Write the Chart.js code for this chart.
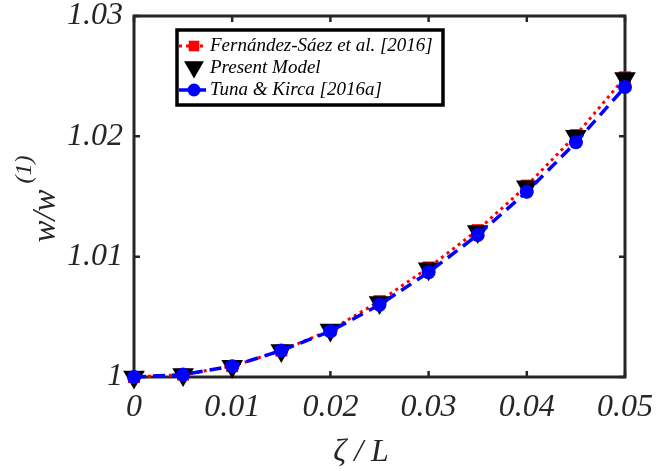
<!DOCTYPE html>
<html>
<head>
<meta charset="utf-8">
<script src="https://cdn.jsdelivr.net/npm/chart.js@4/dist/chart.umd.min.js"></script>
<style>
  html, body { margin: 0; padding: 0; background: #ffffff; }
  #wrap { width: 656px; height: 471px; position: relative; }
</style>
</head>
<body>
<div id="wrap"><canvas id="c" width="656" height="471"></canvas></div>
<script>
// ---- data ----
const xValues = [0, 0.005, 0.01, 0.015, 0.02, 0.025, 0.03, 0.035, 0.04, 0.045, 0.05];
const fernandezSaez = [1, 1.0002, 1.0009, 1.0022, 1.0039, 1.0063, 1.0091, 1.0122, 1.0159, 1.0201, 1.0249];
const presentModel  = [1, 1.0002, 1.0009, 1.0022, 1.0039, 1.0062, 1.0090, 1.0121, 1.0158, 1.0200, 1.0248];
const tunaKirca     = [1, 1.0002, 1.0009, 1.0022, 1.0038, 1.0060, 1.0087, 1.0118, 1.0154, 1.0195, 1.0241];
const xTickLabels = ['0', '0.01', '0.02', '0.03', '0.04', '0.05'];
const yTickLabels = ['1', '1.01', '1.02', '1.03'];
const seriesNames = ['Fernández-Sáez et al. [2016]', 'Present Model', 'Tuna & Kirca [2016a]'];
const xTitle = 'ζ / L';
const yTitleMain = 'w/w';
const yTitleSup = '(1)';

const AXIS = '#262626';
const FONT = '"Liberation Serif", "DejaVu Serif", serif';
const pts = (ys) => xValues.map((x, i) => ({ x: x, y: ys[i] }));

const series = [
  { label: seriesNames[0], data: pts(fernandezSaez), showLine: true,
    borderColor: '#ff0000', borderWidth: 3, borderDash: [3, 4], pointStyle: 'rect',
    pointRadius: 8.5, pointBackgroundColor: '#ff0000', pointBorderColor: '#ff0000', pointBorderWidth: 0, order: 3 },
  { label: seriesNames[1], data: pts(presentModel), showLine: false,
    borderColor: '#000000', pointStyle: 'triangle', pointRotation: 180,
    pointRadius: 12.5, pointBackgroundColor: '#000000', pointBorderColor: '#000000', pointBorderWidth: 0, order: 2 },
  { label: seriesNames[2], data: pts(tunaKirca), showLine: true,
    borderColor: '#0000ff', borderWidth: 3.5, borderDash: [12, 7], pointStyle: 'circle',
    pointRadius: 7, pointBackgroundColor: '#0000ff', pointBorderColor: '#0000ff', pointBorderWidth: 0, order: 1 }
];

// axes box with inward ticks, drawn through the scales
const boxPlugin = {
  id: 'boxPlugin',
  beforeDatasetsDraw(chart) {
    const { ctx, chartArea: a, scales } = chart;
    ctx.save();
    ctx.strokeStyle = AXIS;
    ctx.lineWidth = 3;
    ctx.strokeRect(a.left, a.top, a.right - a.left, a.bottom - a.top);
    ctx.lineWidth = 2.5;
    const tl = 6;
    scales.x.ticks.forEach(t => {
      const px = scales.x.getPixelForValue(t.value);
      ctx.beginPath();
      ctx.moveTo(px, a.bottom); ctx.lineTo(px, a.bottom - tl);
      ctx.moveTo(px, a.top); ctx.lineTo(px, a.top + tl);
      ctx.stroke();
    });
    scales.y.ticks.forEach(t => {
      const py = scales.y.getPixelForValue(t.value);
      ctx.beginPath();
      ctx.moveTo(a.left, py); ctx.lineTo(a.left + tl, py);
      ctx.moveTo(a.right, py); ctx.lineTo(a.right - tl, py);
      ctx.stroke();
    });
    ctx.restore();
  },
  afterDraw(chart) {
    const ctx = chart.ctx;
    // x axis title
    ctx.save();
    ctx.fillStyle = AXIS;
    ctx.font = 'italic 32px ' + FONT;
    ctx.textAlign = 'center';
    ctx.textBaseline = 'alphabetic';
    ctx.fillText(xTitle, 361, 461);
    ctx.restore();

    // y axis title: w/w^(1)
    ctx.save();
    ctx.fillStyle = AXIS;
    ctx.translate(55, 199);
    ctx.rotate(-Math.PI / 2);
    ctx.textBaseline = 'alphabetic';
    ctx.textAlign = 'left';
    const mainFont = 'italic 33px ' + FONT;
    const supFont = 'italic 24px ' + FONT;
    ctx.font = mainFont;
    const w1 = ctx.measureText(yTitleMain).width;
    ctx.font = supFont;
    const w2 = ctx.measureText(yTitleSup).width;
    const gap = 6;
    const start = -(w1 + gap + w2) / 2;
    ctx.font = mainFont;
    ctx.fillText(yTitleMain, start, 0);
    ctx.font = supFont;
    ctx.fillText(yTitleSup, start + w1 + gap, -24);
    ctx.restore();

    // legend
    const L = { left: 177, top: 30, right: 443, bottom: 105 };
    ctx.save();
    ctx.fillStyle = '#ffffff';
    ctx.fillRect(L.left, L.top, L.right - L.left, L.bottom - L.top);
    ctx.strokeStyle = '#000000';
    ctx.lineWidth = 3.5;
    ctx.strokeRect(L.left, L.top, L.right - L.left, L.bottom - L.top);
    const rowsY = [46, 68, 90];
    const mx = 194;
    series.forEach((s, i) => {
      const y = rowsY[i];
      if (s.showLine) {
        ctx.save();
        ctx.strokeStyle = s.borderColor;
        ctx.lineWidth = s.borderWidth;
        ctx.setLineDash(s.borderDash);
        ctx.beginPath();
        ctx.moveTo(L.left + 2, y); ctx.lineTo(mx + 12, y);
        ctx.stroke();
        ctx.restore();
      }
      ctx.fillStyle = s.pointBackgroundColor;
      ctx.strokeStyle = s.pointBorderColor;
      const r = s.pointStyle === 'triangle' ? 11.5 : (s.pointStyle === 'rect' ? 7.5 : 6.5);
      Chart.helpers.drawPoint(ctx, { pointStyle: s.pointStyle, radius: r, rotation: s.pointRotation || 0, borderWidth: 0 }, mx, y + (s.pointStyle === 'triangle' ? -1 : 0));
      ctx.fillStyle = '#000000';
      ctx.font = 'italic 19px ' + FONT;
      ctx.textBaseline = 'middle';
      ctx.textAlign = 'left';
      ctx.fillText(s.label, 210, y);
    });
    ctx.restore();
  }
};

new Chart(document.getElementById('c'), {
  type: 'scatter',
  data: { datasets: series.map(s => Object.assign({ clip: false, fill: false, tension: 0 }, s)) },
  options: {
    responsive: false,
    animation: false,
    layout: { padding: { top: 16, right: 31, left: 0, bottom: 0 } },
    plugins: { legend: { display: false }, tooltip: { enabled: false } },
    scales: {
      x: {
        type: 'linear', min: 0, max: 0.05,
        grid: { display: false, drawTicks: false },
        border: { display: false },
        ticks: { stepSize: 0.01, padding: 11, color: AXIS, autoSkip: false, maxRotation: 0,
          font: { family: FONT, style: 'italic', size: 32 },
          callback: (v, i) => xTickLabels[i] },
        afterFit: (s) => { s.height = 94; s.paddingLeft = 0; s.paddingRight = 0; }
      },
      y: {
        type: 'linear', min: 1, max: 1.03,
        grid: { display: false, drawTicks: false },
        border: { display: false },
        ticks: { stepSize: 0.01, padding: 11, color: AXIS, autoSkip: false,
          font: { family: FONT, style: 'italic', size: 32 },
          callback: (v, i) => yTickLabels[i] },
        afterFit: (s) => { s.width = 134; s.paddingTop = 0; s.paddingBottom = 0; }
      }
    }
  },
  plugins: [boxPlugin]
});
</script>
</body>
</html>
